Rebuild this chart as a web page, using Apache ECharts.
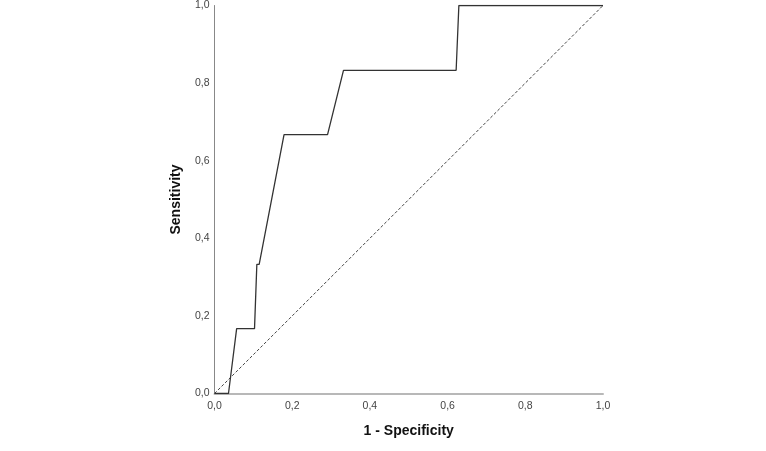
<!DOCTYPE html>
<html>
<head>
<meta charset="utf-8">
<script src="https://cdn.jsdelivr.net/npm/echarts@6/dist/echarts.min.js"></script>
<style>
  html, body { margin: 0; padding: 0; background: #fff; }
  #roc-chart { width: 766px; height: 451px; }
</style>
</head>
<body>
<div id="roc-chart"></div>
<script>
// ROC 曲线数据 (1 - Specificity, Sensitivity)
const fprValues = [0, 0.036, 0.057, 0.103, 0.109, 0.115, 0.179, 0.291, 0.332, 0.622, 0.629, 1.0];
const tprValues = [0, 0, 0.167, 0.167, 0.333, 0.333, 0.667, 0.667, 0.833, 0.833, 1.0, 1.0];
const refLine = [[0, 0], [1, 1]];
const tickLabels = ['0,0', '0,2', '0,4', '0,6', '0,8', '1,0'];

const rocData = fprValues.map((x, i) => [x, tprValues[i]]);
const fmtTick = v => tickLabels[Math.round(v / 0.2)] || '';

const chart = echarts.init(document.getElementById('roc-chart'));
const option = {
    backgroundColor: '#fff',
    animation: false,
    grid: { left: 214.5, right: 163, top: 4.5, bottom: 57.5, containLabel: false },
    xAxis: {
        type: 'value', min: 0, max: 1, interval: 0.2,
        name: '1 - Specificity', nameLocation: 'middle', nameGap: 31,
        nameTextStyle: { fontFamily: 'Liberation Sans', fontSize: 14, fontWeight: 'bold', color: '#111' },
        axisLine: { show: true, onZero: false, lineStyle: { color: '#b8b8b8', width: 2 } },
        axisTick: { show: false },
        splitLine: { show: false },
        axisLabel: { formatter: fmtTick, margin: 7, fontFamily: 'Liberation Sans', fontSize: 10.5, color: '#444' }
    },
    yAxis: {
        type: 'value', min: 0, max: 1, interval: 0.2,
        name: 'Sensitivity', nameLocation: 'middle', nameGap: 31,
        nameTextStyle: { fontFamily: 'Liberation Sans', fontSize: 14, fontWeight: 'bold', color: '#111' },
        axisLine: { show: true, onZero: false, lineStyle: { color: '#888', width: 1 } },
        axisTick: { show: false },
        splitLine: { show: false },
        axisLabel: { formatter: fmtTick, margin: 5, fontFamily: 'Liberation Sans', fontSize: 10.5, color: '#444' }
    },
    series: [
        {
            name: 'Reference', type: 'line', data: refLine, symbol: 'none', silent: true,
            lineStyle: { color: '#444', width: 1, type: [3, 2] }
        },
        {
            name: 'ROC', type: 'line', data: rocData, symbol: 'none', smooth: false,
            lineStyle: { color: '#333', width: 1.3 }
        }
    ]
};
chart.setOption(option);
</script>
</body>
</html>
